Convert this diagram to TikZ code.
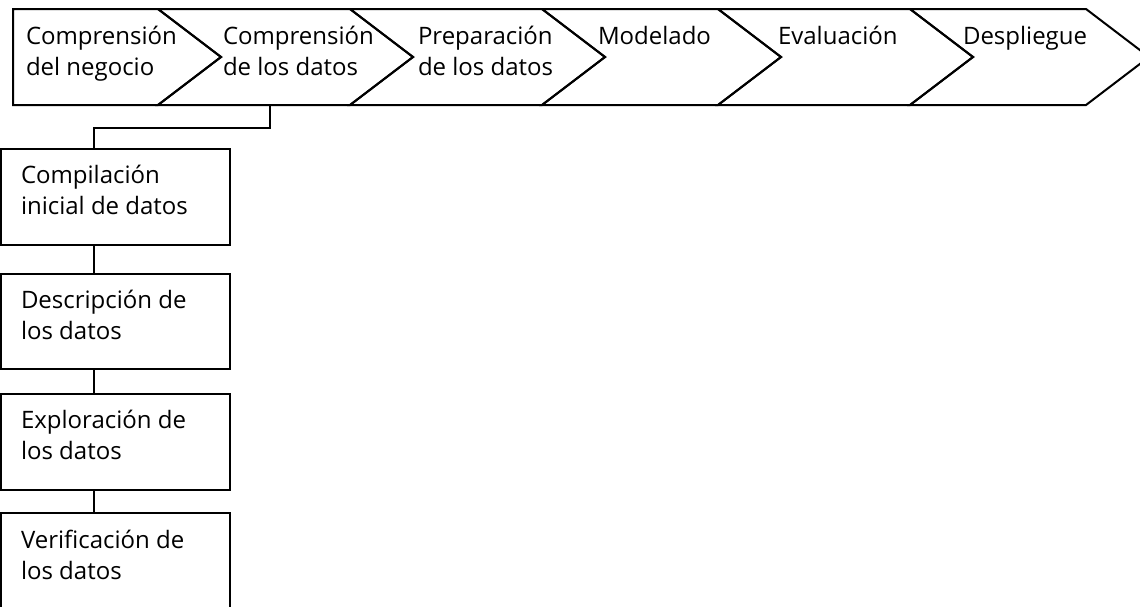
\documentclass[tikz,border=0pt]{standalone}
\usepackage{fontspec}
\setmainfont{Open Sans}
\begin{document}
\begin{tikzpicture}[x=0.5pt,y=-0.5pt,
  line width=1pt, line join=miter,
  phase/.style={draw=black, line width=1pt},
  % labels are placed by the baseline of their last line
  txt/.style={anchor=base west, inner sep=0pt, align=left,
    font=\fontsize{12}{15.5}\selectfont},
  taskbox/.style={draw=black, line width=1pt, rectangle, inner sep=0pt,
    anchor=north west, minimum width=114.5pt, minimum height=48pt},
  link/.style={draw=black, line width=1pt}
]
\useasboundingbox (0,0) rectangle (1140,606);
\clip (0,0) rectangle (1140,606);

% process band: first phase has a flat left side
\draw[phase] (13,9) -- (158,9) -- (221,57) -- (158,105) -- (13,105) -- cycle;
\foreach \a/\b in {158/350, 350/542, 542/718, 718/910, 910/1086}
  \draw[phase] (\a,9) -- (\b,9) -- (\b+63,57) -- (\b,105) -- (\a,105)
    -- (\a+63,57) -- cycle;

% phase names
\node[txt] (ph1) at (25,75)  {Comprensión\\del negocio};
\node[txt] (ph2) at (222,75) {Comprensión\\de los datos};
\node[txt] (ph3) at (417,75) {Preparación\\de los datos};
\node[txt] (ph4) at (597,44) {Modelado};
\node[txt] (ph5) at (777,44) {Evaluación};
\node[txt] (ph6) at (962,44) {Despliegue};

% tasks of the data understanding phase
\node[taskbox] (b1) at (0,148) {};
\node[taskbox, minimum height=47.5pt] (b2) at (0,273) {};
\node[taskbox] (b3) at (0,393) {};
\node[taskbox, minimum height=70pt] (b4) at (0,512) {};

\node[txt] (t1) at (20,214) {Compilación\\inicial de datos};
\node[txt] (t2) at (20,339) {Descripción de\\los datos};
\node[txt] (t3) at (20,459) {Exploración de\\los datos};
\node[txt] (t4) at (20,579) {Verificación de\\los datos};

% connectors
\coordinate (c2) at (270,105);
\draw[link] (c2) -- ++(0,23) -| ([xshift=47pt]b1.north west);
\draw[link] ([xshift=47pt]b1.south west) -- ([xshift=47pt]b2.north west);
\draw[link] ([xshift=47pt]b2.south west) -- ([xshift=47pt]b3.north west);
\draw[link] ([xshift=47pt]b3.south west) -- ([xshift=47pt]b4.north west);
\end{tikzpicture}
\end{document}
